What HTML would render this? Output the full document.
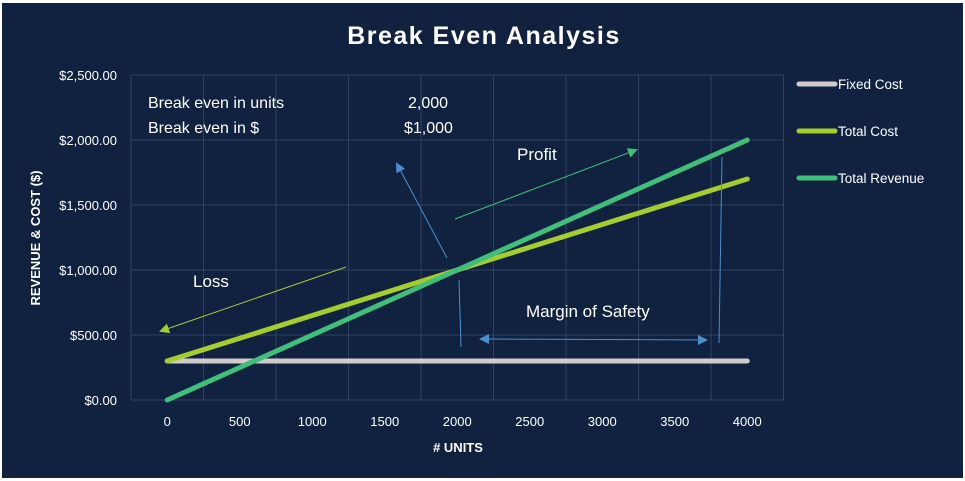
<!DOCTYPE html>
<html><head><meta charset="utf-8"><style>
html,body{margin:0;padding:0;background:#fff;}
svg{display:block;font-family:"Liberation Sans",sans-serif;}
</style></head><body>
<svg id="chart" width="965" height="481">
<rect x="2" y="3" width="961" height="475" fill="#112241"/>
<text x="484" y="44" text-anchor="middle" fill="#fff" font-size="25" font-weight="bold" letter-spacing="1.5">Break Even Analysis</text>
<g id="grid"></g>
<g id="yticks"></g>
<g id="xticks"></g>
<text transform="translate(40,238) rotate(-90)" text-anchor="middle" fill="#fff" font-size="13" font-weight="bold">REVENUE &amp; COST  ($)</text>
<text x="458" y="452" text-anchor="middle" fill="#fff" font-size="13" font-weight="bold"># UNITS</text>
<g id="series"></g>
<g font-size="16" fill="#fff">
<text x="148" y="108">Break even in units</text>
<text x="148" y="133">Break even in $</text>
<text x="408" y="108">2,000</text>
<text x="404" y="133">$1,000</text>
<text x="517" y="160" font-size="17">Profit</text>
<text x="193" y="287" font-size="17">Loss</text>
<text x="526" y="317" font-size="17">Margin of Safety</text>
</g>
<defs>
<marker id="ab" markerWidth="8" markerHeight="8" refX="6" refY="4" orient="auto" markerUnits="userSpaceOnUse"><path d="M0,0L8,4L0,8z" fill="#4a8fd0"/></marker>
<marker id="ag" markerWidth="10" markerHeight="10" refX="8" refY="5" orient="auto" markerUnits="userSpaceOnUse"><path d="M0,0L10,5L0,10z" fill="#3fbf7a"/></marker>
<marker id="ay" markerWidth="10" markerHeight="10" refX="8" refY="5" orient="auto" markerUnits="userSpaceOnUse"><path d="M0,0L10,5L0,10z" fill="#a5cd2c"/></marker>
<marker id="ab2" markerWidth="10" markerHeight="10" refX="8" refY="5" orient="auto" markerUnits="userSpaceOnUse"><path d="M0,0L10,5L0,10z" fill="#4a8fd0"/></marker>
<marker id="ab3" markerWidth="10" markerHeight="10" refX="2" refY="5" orient="auto-start-reverse" markerUnits="userSpaceOnUse"><path d="M0,0L10,5L0,10z" fill="#4a8fd0"/></marker>
</defs>
<line x1="447" y1="258" x2="397" y2="164" stroke="#4a8fd0" stroke-width="1" marker-end="url(#ab2)"/>
<line x1="455" y1="219" x2="636" y2="150" stroke="#3fbf7a" stroke-width="1" marker-end="url(#ag)"/>
<line x1="346" y1="267" x2="161" y2="331" stroke="#a5cd2c" stroke-width="1" marker-end="url(#ay)"/>
<line x1="487" y1="339" x2="706" y2="340" stroke="#4a8fd0" stroke-width="1" marker-start="url(#ab3)" marker-end="url(#ab2)"/>
<line x1="459" y1="280" x2="461" y2="347" stroke="#4a8fd0" stroke-width="1"/>
<line x1="722" y1="157" x2="719" y2="343" stroke="#4a8fd0" stroke-width="1"/>
<g id="legend"></g>
</svg>
<script>
const categories=[0,500,1000,1500,2000,2500,3000,3500,4000];
const fixedCost=[300,300,300,300,300,300,300,300,300];
const totalCost=[300,475,650,825,1000,1175,1350,1525,1700];
const totalRevenue=[0,250,500,750,1000,1250,1500,1750,2000];
const yTicks=[0,500,1000,1500,2000,2500];
const yTickLabels=["$0.00","$500.00","$1,000.00","$1,500.00","$2,000.00","$2,500.00"];
const seriesNames=["Fixed Cost","Total Cost","Total Revenue"];
const NS="http://www.w3.org/2000/svg";
const L=131,R=783.5,T=75,B=400;
const band=(R-L)/categories.length;
const xs=i=>L+band*(i+0.5);
const ys=v=>B-(v/2500)*(B-T);
function mk(tag,attrs,parent){const e=document.createElementNS(NS,tag);for(const k in attrs)e.setAttribute(k,attrs[k]);parent.appendChild(e);return e;}
const grid=document.getElementById('grid');
yTicks.forEach((v,i)=>{
 const l=mk('line',{x1:L,x2:R,y1:ys(v),y2:ys(v),stroke:'#2f4262','stroke-width':1},grid);
 
 
 const t=mk('text',{x:117,y:ys(v)+5,'text-anchor':'end',fill:'#fff','font-size':13},document.getElementById('yticks'));
 t.textContent=yTickLabels[i];
 
 
});
for(let i=0;i<=categories.length;i++){
 const x=L+band*i;
 const l=mk('line',{x1:x,x2:x,y1:T,y2:B,stroke:'#2f4262','stroke-width':1},grid);
 
 
}
categories.forEach((c,i)=>{
 const t=mk('text',{x:xs(i),y:426,'text-anchor':'middle',fill:'#fff','font-size':13},document.getElementById('xticks'));
 t.textContent=c;
 
 
});
const colors=['#cfcccb','#a5cd2c','#3fbf7a'];
const data=[fixedCost,totalCost,totalRevenue];
const sg=document.getElementById('series');
data.forEach((arr,s)=>{
 const pts=arr.map((v,i)=>xs(i)+','+ys(v)).join(' ');
 const p=mk('polyline',{points:pts,fill:'none',stroke:colors[s],'stroke-width':5,'stroke-linecap':'round','stroke-linejoin':'round'},sg);
 
 
});
const lg=document.getElementById('legend');
seriesNames.forEach((n,s)=>{
 const y=84+s*47;
 const g=mk('g',{},lg);
 
 
 mk('line',{x1:799,x2:835,y1:y,y2:y,stroke:colors[s],'stroke-width':5,'stroke-linecap':'round'},g);
 const t=mk('text',{x:838,y:y+5,fill:'#fff','font-size':13.5},g);
 t.textContent=n;
});
</script>
</body></html>
